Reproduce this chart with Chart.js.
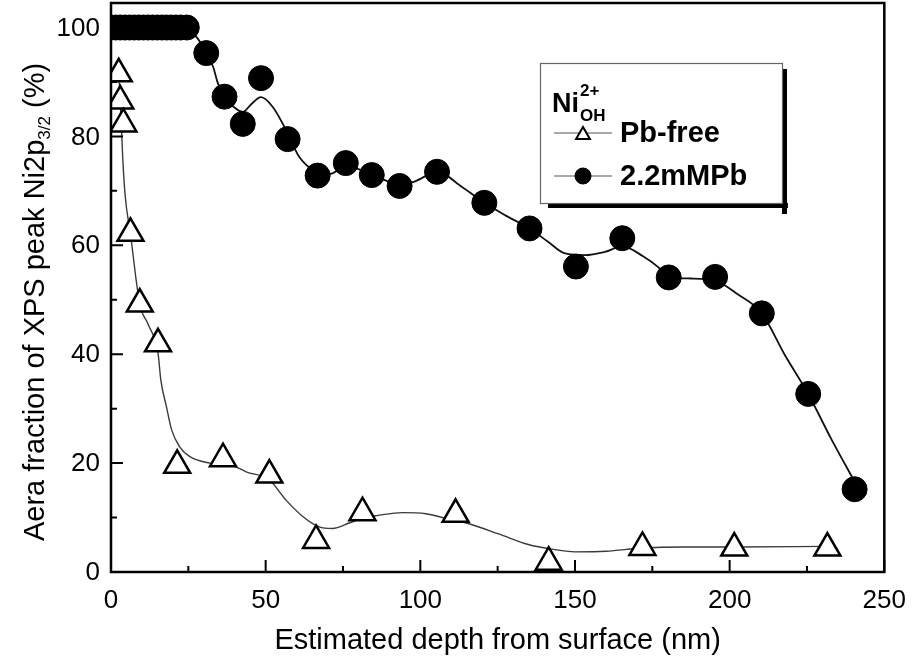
<!DOCTYPE html>
<html>
<head>
<meta charset="utf-8">
<script src="https://cdn.jsdelivr.net/npm/chart.js@4/dist/chart.umd.min.js"></script>
<style>
  html, body { margin: 0; padding: 0; background: #fff; }
  #wrap { width: 919px; height: 659px; position: relative; }
</style>
</head>
<body>
<div id="wrap"><canvas id="c" width="919" height="659"></canvas></div>
<script>
// Pb-free samples: depth (nm) vs. area fraction of the Ni(OH) 2+ component (%)
const pbFreeDepth = [2.5, 3, 4, 6.3, 9.3, 15.2, 21.4, 36.2, 51.2, 66.3, 81.3, 111.4, 141.5, 171.8, 201.5, 231.6];
const pbFreeFrac  = [91.5, 86.5, 82.3, 62.2, 49.2, 41.9, 19.6, 20.8, 17.8, 5.8, 10.9, 10.6, 1.8, 4.5, 4.4, 4.4];

// 2.2 mM Pb samples
const pbDepth = [0, 1.5, 3, 4.5, 6, 7.5, 9, 10.5, 12, 13.5, 15, 16.5, 18, 19.5, 21, 22.5, 24.5,
                 30.8, 36.7, 42.6, 48.5, 57.1, 66.8, 75.9, 84.3, 93.3, 105.4, 120.7, 135.3,
                 150.3, 165.3, 180.3, 195.3, 210.4, 225.4, 240.4];
const pbFrac  = [100, 100, 100, 100, 100, 100, 100, 100, 100, 100, 100, 100, 100, 100, 100, 100, 100,
                 95.3, 87.3, 82.3, 90.7, 79.5, 72.8, 75.1, 72.9, 70.9, 73.5, 67.8, 63.1,
                 56.1, 61.3, 54.1, 54.2, 47.5, 32.7, 15.2];

// Smoothed guide curves through each series
const pbFreeFitX = [2.5, 3.2, 3.8, 4.6, 6.3, 9.3, 12, 15.2, 16.1, 17.9, 19.6, 22.2, 25.5, 31.9, 39.4, 43.7,
                    51.2, 56.6, 62.0, 67.3, 71.6, 77.0, 81.3, 86.3, 94.3, 101.8, 107.9, 115.4, 125.3,
                    135.2, 141.4, 150.1, 160, 171.8, 184.8, 201.5, 231.6];
const pbFreeFitY = [92, 84, 76, 69, 62, 49.2, 45.5, 40.2, 35.3, 30.4, 26.1, 23.0, 21.2, 20.0, 19.5, 18.4,
                    16.9, 13.2, 10.2, 8.3, 8.0, 9.0, 9.9, 10.4, 10.9, 10.7, 9.9, 8.9, 7.0,
                    5.0, 4.3, 3.7, 3.8, 4.4, 4.6, 4.6, 4.7];
const pbFitX = [24.5, 28, 30.8, 33.0, 34.6, 36.7, 39.5, 42.6, 45.5, 48.5, 52.3, 56.1, 60.9, 65.2, 68.5,
                71.6, 75.9, 80, 84.3, 89.3, 93.3, 98.5, 105.4, 113.5, 120.7, 127.5, 135.3, 141.4,
                146.8, 153.2, 159.7, 165.3, 172, 176.9, 180.3, 187.6, 195.3, 202.6, 210.4, 217.7,
                225.4, 232.7, 240.4];
const pbFitY = [100, 98, 95.3, 92.8, 89.7, 87.3, 85.5, 84.5, 86, 87.2, 85.4, 81.7, 76.2, 73.8, 73.0,
                73.2, 74.6, 74.0, 73.0, 71.8, 71.0, 71.8, 73.5, 70.7, 67.8, 65.5, 63.1, 60.6,
                58.5, 58.2, 58.8, 59.8, 58.0, 56.0, 54.1, 53.9, 53.5, 51.0, 47.5, 40.0,
                32.7, 24.6, 16.6];

// Axis tick values
const xMajorTicks = [0, 50, 100, 150, 200, 250];
const xMinorTicks = [25, 75, 125, 175, 225];
const yMajorTicks = [0, 20, 40, 60, 80, 100];
const yMinorTicks = [10, 30, 50, 70, 90];

const FONT = '"Liberation Sans", Arial, Helvetica, sans-serif';

const toPoints = (xs, ys) => xs.map((x, i) => ({ x: x, y: ys[i] }));

// Frame, inward tick marks, y tick labels, rotated y title with subscript, and the boxed legend
const decorations = {
  id: 'decorations',
  afterDraw(chart) {
    const { ctx, chartArea: a, scales } = chart;
    const xs = scales.x, ys = scales.y;
    ctx.save();
    ctx.strokeStyle = '#000';
    ctx.lineWidth = 2.5;
    ctx.strokeRect(a.left, a.top, a.right - a.left, a.bottom - a.top);

    ctx.lineWidth = 2;
    ctx.beginPath();
    xMajorTicks.forEach(v => { const p = xs.getPixelForValue(v); ctx.moveTo(p, a.bottom); ctx.lineTo(p, a.bottom - 12); });
    xMinorTicks.forEach(v => { const p = xs.getPixelForValue(v); ctx.moveTo(p, a.bottom); ctx.lineTo(p, a.bottom - 6); });
    yMajorTicks.forEach(v => { const p = ys.getPixelForValue(v); ctx.moveTo(a.left, p); ctx.lineTo(a.left + 12, p); });
    yMinorTicks.forEach(v => { const p = ys.getPixelForValue(v); ctx.moveTo(a.left, p); ctx.lineTo(a.left + 6, p); });
    ctx.stroke();

    // y tick labels
    ctx.fillStyle = '#000';
    ctx.font = 'normal 26px ' + FONT;
    ctx.textAlign = 'right';
    ctx.textBaseline = 'middle';
    yMajorTicks.forEach(v => ctx.fillText(String(v), a.left - 11, ys.getPixelForValue(v) + 1));

    // y-axis title: "Aera fraction of XPS peak Ni2p3/2 (%)"
    const main = 'Aera fraction of XPS peak Ni2p';
    const sub = '3/2';
    const tail = ' (%)';
    const fMain = 'normal 29px ' + FONT;
    const fSub = 'normal 17px ' + FONT;
    ctx.font = fMain;
    const wMain = ctx.measureText(main).width;
    const wTail = ctx.measureText(tail).width;
    ctx.font = fSub;
    const wSub = ctx.measureText(sub).width;
    const total = wMain + wSub + wTail;
    ctx.translate(36, 302);
    ctx.rotate(-Math.PI / 2);
    ctx.textBaseline = 'middle';
    ctx.textAlign = 'left';
    const x0 = -total / 2;
    ctx.font = fMain;
    ctx.fillText(main, x0, 0);
    ctx.font = fSub;
    ctx.fillText(sub, x0 + wMain, 9);
    ctx.font = fMain;
    ctx.fillText(tail, x0 + wMain + wSub, 0);
    ctx.restore();

    // legend box with drop shadow
    ctx.save();
    const bx = 540, by = 63, bw = 242, bh = 140;
    ctx.fillStyle = '#000';
    ctx.fillRect(bx + 8, by + bh, bw - 2, 5);
    ctx.fillRect(bx + bw, by + 6, 5, bh + 5);
    ctx.fillStyle = '#fff';
    ctx.fillRect(bx, by, bw, bh);
    ctx.strokeStyle = '#666';
    ctx.lineWidth = 1.2;
    ctx.strokeRect(bx + 0.5, by + 0.5, bw, bh);

    ctx.fillStyle = '#000';
    ctx.textAlign = 'left';
    ctx.textBaseline = 'alphabetic';
    ctx.font = 'bold 27px ' + FONT;
    ctx.fillText('Ni', 552, 112);
    const wNi = ctx.measureText('Ni').width;
    ctx.font = 'bold 17px ' + FONT;
    ctx.fillText('2+', 552 + wNi + 1, 96);
    ctx.fillText('OH', 552 + wNi + 1, 121);

    const rows = [
      { ds: chart.data.datasets[0], y: 133 },
      { ds: chart.data.datasets[1], y: 176 }
    ];
    rows.forEach(r => {
      const tri = r.ds.pointStyle === 'triangle';
      ctx.strokeStyle = '#555';
      ctx.lineWidth = 1.2;
      ctx.beginPath();
      ctx.moveTo(554, r.y); ctx.lineTo(612, r.y);
      ctx.stroke();
      ctx.fillStyle = r.ds.backgroundColor;
      ctx.strokeStyle = r.ds.borderColor;
      ctx.lineWidth = tri ? 2 : 1;
      Chart.helpers.drawPoint(ctx, {
        pointStyle: r.ds.pointStyle, radius: 8, rotation: 0, borderWidth: ctx.lineWidth
      }, 583, r.y + (tri ? 2 : 0));
      ctx.fillStyle = '#000';
      ctx.font = 'bold 29px ' + FONT;
      ctx.textBaseline = 'middle';
      ctx.fillText(r.ds.label, 620, r.y + 1);
    });
    ctx.restore();
  }
};

new Chart(document.getElementById('c').getContext('2d'), {
  type: 'scatter',
  data: {
    datasets: [
      {
        label: 'Pb-free',
        data: toPoints(pbFreeDepth, pbFreeFrac),
        pointStyle: 'triangle', pointRadius: 15,
        backgroundColor: '#fff', borderColor: '#000', borderWidth: 2.5,
        showLine: false, order: 1, clip: 0
      },
      {
        label: '2.2mMPb',
        data: toPoints(pbDepth, pbFrac),
        pointStyle: 'circle', pointRadius: 12.5,
        backgroundColor: '#000', borderColor: '#000', borderWidth: 1,
        showLine: false, order: 0, clip: 0
      },
      {
        type: 'line', label: 'Pb-free curve',
        data: toPoints(pbFreeFitX, pbFreeFitY),
        borderColor: '#3a3a3a', borderWidth: 1.4, pointRadius: 0,
        cubicInterpolationMode: 'monotone', fill: false, order: 3, clip: 0
      },
      {
        type: 'line', label: '2.2mMPb curve',
        data: toPoints(pbFitX, pbFitY),
        borderColor: '#111', borderWidth: 1.8, pointRadius: 0,
        cubicInterpolationMode: 'monotone', fill: false, order: 2, clip: 0
      }
    ]
  },
  options: {
    responsive: false,
    animation: false,
    events: [],
    layout: { autoPadding: false, padding: { top: 3, right: 32, bottom: 0, left: 0 } },
    plugins: { legend: { display: false }, tooltip: { enabled: false } },
    scales: {
      x: {
        type: 'linear', min: 0, max: 250,
        grid: { display: false, drawTicks: false },
        border: { display: false },
        afterFit(scale) { scale.height = 87; },
        ticks: {
          stepSize: 50, includeBounds: false, maxRotation: 0, padding: 13,
          color: '#000', font: { family: FONT, size: 26 }
        },
        title: {
          display: true, text: 'Estimated depth from surface (nm)',
          color: '#000', font: { family: FONT, size: 29 }, padding: { top: 0, bottom: 1 }
        }
      },
      y: {
        type: 'linear', min: 0, max: 104.5,
        grid: { display: false, drawTicks: false },
        border: { display: false },
        afterFit(scale) { scale.width = 111; },
        ticks: { display: false, stepSize: 20, includeBounds: false }
      }
    }
  },
  plugins: [decorations]
});
</script>
</body>
</html>
